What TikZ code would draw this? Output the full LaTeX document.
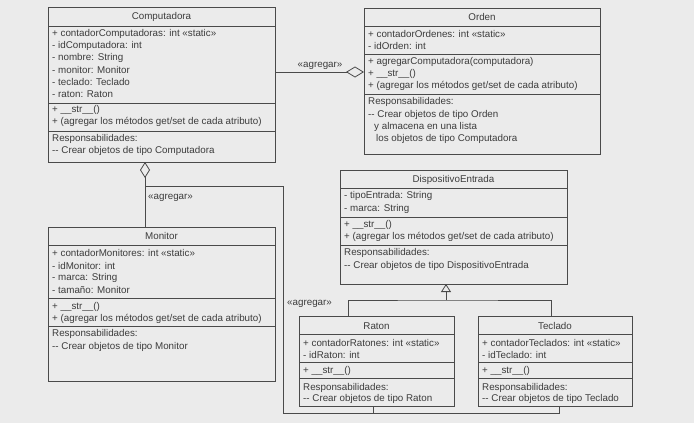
\documentclass[tikz,border=0pt]{standalone}
\usepackage{fontspec}
\setmainfont{Liberation Sans}
\usetikzlibrary{arrows.meta}
\definecolor{bg}{HTML}{EBEBEB}
\definecolor{ln}{HTML}{4A4A4A}
\definecolor{tx}{HTML}{3C3C3C}
\begin{document}
\begin{tikzpicture}[x=1pt,y=-1pt,
  box/.style={draw=ln, line width=0.8pt, anchor=north west, inner sep=0pt, outer sep=0pt},
  txt/.style={anchor=west, inner sep=0pt, font=\fontsize{9.8}{11}\selectfont, text=tx},
  ttl/.style={anchor=center, inner sep=0pt, font=\fontsize{9.8}{11}\selectfont, text=tx},
  ln/.style={draw=ln, line width=0.8pt},
  agg/.style={ln, -{Diamond[open, length=18pt, width=11pt, line width=0.8pt]}},
  aggv/.style={ln, {Diamond[open, length=16pt, width=10pt, line width=0.8pt]}-},
  inh/.style={ln, -{Triangle[open, length=8pt, width=10pt, line width=0.8pt]}}
]
\fill[bg] (0,0) rectangle (694,423);
\useasboundingbox (0,0) rectangle (694,423);

% ---------- Computadora
\node[box, minimum width=227pt, minimum height=155pt] (comp) at (48,7) {};
\draw[ln] (48,26) -- (275,26);
\draw[ln] (48,103) -- (275,103);
\draw[ln] (48,131) -- (275,131);
\node[ttl] (compT) at (161.5,17) {Computadora};
\node[txt] (c1) at (52,34) {+ contadorComputadoras: int «static»};
\node[txt] (c2) at (52,46) {- idComputadora: int};
\node[txt] (c3) at (52,58) {- nombre: String};
\node[txt] (c4) at (52,70) {- monitor: Monitor};
\node[txt] (c5) at (52,82) {- teclado: Teclado};
\node[txt] (c6) at (52,94) {- raton: Raton};
\node[txt] (c7) at (52,110) {+ \_\_str\_\_()};
\node[txt] (c8) at (52,122) {+ (agregar los métodos get/set de cada atributo)};
\node[txt] (c9) at (52,139) {Responsabilidades:};
\node[txt] (c10) at (52,151) {-{}- Crear objetos de tipo Computadora};

% ---------- Orden
\node[box, minimum width=236pt, minimum height=146pt] (orden) at (364,8) {};
\draw[ln] (364,26) -- (600,26);
\draw[ln] (364,54) -- (600,54);
\draw[ln] (364,94) -- (600,94);
\node[ttl] (ordT) at (482,17) {Orden};
\node[txt] (o1) at (368,34) {+ contadorOrdenes: int «static»};
\node[txt] (o2) at (368,46) {- idOrden: int};
\node[txt] (o3) at (368,62) {+ agregarComputadora(computadora)};
\node[txt] (o4) at (368,74) {+ \_\_str\_\_()};
\node[txt] (o5) at (368,86) {+ (agregar los métodos get/set de cada atributo)};
\node[txt] (o6) at (368,102) {Responsabilidades:};
\node[txt] (o7) at (368,114.5) {-{}- Crear objetos de tipo Orden};
\node[txt] (o8) at (374,127) {y almacena en una lista};
\node[txt] (o9) at (376,139) {los objetos de tipo Computadora};

% ---------- DispositivoEntrada
\node[box, minimum width=227pt, minimum height=114pt] (disp) at (340,170) {};
\draw[ln] (340,188) -- (567,188);
\draw[ln] (340,217) -- (567,217);
\draw[ln] (340,245) -- (567,245);
\node[ttl] (dT) at (453.5,180) {DispositivoEntrada};
\node[txt] (d1) at (344,196) {- tipoEntrada: String};
\node[txt] (d2) at (344,209) {- marca: String};
\node[txt] (d3) at (344,225) {+ \_\_str\_\_()};
\node[txt] (d4) at (344,237) {+ (agregar los métodos get/set de cada atributo)};
\node[txt] (d5) at (344,253) {Responsabilidades:};
\node[txt] (d6) at (344,266) {-{}- Crear objetos de tipo DispositivoEntrada};

% ---------- Monitor
\node[box, minimum width=227pt, minimum height=154pt] (mon) at (48,227) {};
\draw[ln] (48,245) -- (275,245);
\draw[ln] (48,298) -- (275,298);
\draw[ln] (48,326) -- (275,326);
\node[ttl] (mT) at (161.5,236) {Monitor};
\node[txt] (m1) at (52,253) {+ contadorMonitores: int «static»};
\node[txt] (m2) at (52,265.5) {- idMonitor: int};
\node[txt] (m3) at (52,277.5) {- marca: String};
\node[txt] (m4) at (52,289.5) {- tamaño: Monitor};
\node[txt] (m5) at (52,307) {+ \_\_str\_\_()};
\node[txt] (m6) at (52,318.5) {+ (agregar los métodos get/set de cada atributo)};
\node[txt] (m7) at (52,334) {Responsabilidades:};
\node[txt] (m8) at (52,346.5) {-{}- Crear objetos de tipo Monitor};

% ---------- Raton
\node[box, minimum width=155pt, minimum height=90pt] (raton) at (299,316) {};
\draw[ln] (299,334) -- (454,334);
\draw[ln] (299,362) -- (454,362);
\draw[ln] (299,378) -- (454,378);
\node[ttl] (rT) at (376.5,326) {Raton};
\node[txt] (r1) at (303,343) {+ contadorRatones: int «static»};
\node[txt] (r2) at (303,355) {- idRaton: int};
\node[txt] (r3) at (303,370.5) {+ \_\_str\_\_()};
\node[txt] (r4) at (303,387.5) {Responsabilidades:};
\node[txt] (r5) at (303,399) {-{}- Crear objetos de tipo Raton};

% ---------- Teclado
\node[box, minimum width=154pt, minimum height=90pt] (tec) at (478,316) {};
\draw[ln] (478,334) -- (632,334);
\draw[ln] (478,362) -- (632,362);
\draw[ln] (478,378) -- (632,378);
\node[ttl] (tT) at (555,326) {Teclado};
\node[txt] (t1) at (482,343) {+ contadorTeclados: int «static»};
\node[txt] (t2) at (482,355) {- idTeclado: int};
\node[txt] (t3) at (482,370.5) {+ \_\_str\_\_()};
\node[txt] (t4) at (482,387.5) {Responsabilidades:};
\node[txt] (t5) at (482,399) {-{}- Crear objetos de tipo Teclado};

% ---------- Connectors
% Computadora -> Orden (aggregation)
\draw[agg] (comp.east |- 0,72) -- (orden.west |- 0,72);
\node[txt] (lab1) at (297.5,66) {«agregar»};

% Computadora <>- Monitor / Raton / Teclado
\coordinate (j1) at (145,186);
\draw[aggv] (comp.south -| 145,0) -- (mon.north -| 145,0);
\node[txt] (lab2) at (148,198) {«agregar»};
\coordinate (j2) at (283,413);
\draw[ln] (j1) -| (j2) -| (tec.south -| 559,0);
\draw[ln] (j2 -| 373,0) -- (raton.south -| 373,0);
\node[txt] (lab3) at (287,303.5) {«agregar»};

% Inheritance
\coordinate (j3) at (446,300);
\draw[inh] (j3) -- (disp.south -| 446,0);
\draw[ln] (raton.north -| 348,0) |- (j3) -| (tec.north -| 551,0);
\end{tikzpicture}
\end{document}
